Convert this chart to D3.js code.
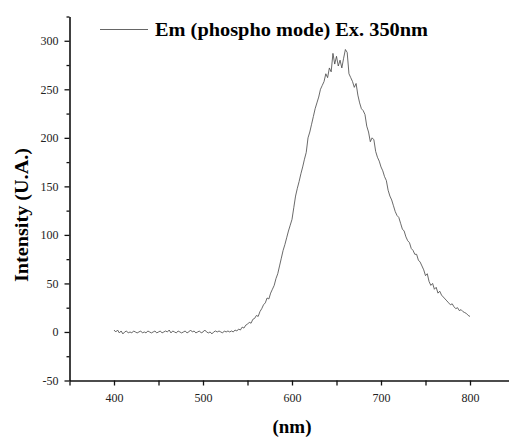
<!DOCTYPE html>
<html><head><meta charset="utf-8">
<script src="https://cdn.jsdelivr.net/npm/d3@7"></script>
<style>html,body{margin:0;padding:0;background:#fff;}svg{display:block;}</style>
</head><body>
<svg id="chart" width="509" height="438"></svg>
<script>
// ---- data ----
const seriesName = "Em (phospho mode) Ex. 350nm";
const xLabel = "(nm)";
const yLabel = "Intensity (U.A.)";
const wavelengthStart = 400, wavelengthStep = 2;
const intensity = [
  2,0,2,-1,1,-2,0,1,-1,0,
  -1,1,0,-1,0,1,-1,0,-1,1,
  0,-1,0,1,-1,0,1,-1,0,1,
  0,2,-1,1,0,-1,1,0,-1,0,
  1,-1,0,2,0,1,-1,0,1,-1,
  0,2,0,-1,0,-2,0,1,0,1,
  0,-1,1,0,1,0,1,0,2,1,
  3,2,5,4,7,8,10,9,13,14,
  17,16,21,24,28,30,35,34,40,44,
  48,55,60,68,76,84,90,97,104,110,
  116,128,140,148,155,163,170,178,185,200,
  206,214,222,230,236,242,250,254,258,266,
  262,272,268,287,276,284,274,280,272,282,
  291,288,266,262,258,252,256,244,236,230,
  228,224,212,206,196,200,198,186,180,176,
  170,166,160,156,146,140,136,130,124,120,
  118,112,106,104,98,94,92,86,84,80,
  80,74,72,68,64,58,60,52,48,50,
  44,46,40,42,38,36,34,32,30,28,
  29,26,24,25,22,23,21,20,19,17,16
];
const wavelengths = intensity.map((_, i) => wavelengthStart + i * wavelengthStep);
const xTicks = [400, 500, 600, 700, 800];
const xMinorTicks = [350, 450, 550, 650, 750, 850];
const yTicks = [-50, 0, 50, 100, 150, 200, 250, 300];
const yMinorTicks = [-25, 25, 75, 125, 175, 225, 275, 325];
const xDomain = [350, 850];
const yDomain = [-50, 325];

// ---- layout ----
const svg = d3.select("#chart");
const mLeft = 69.5, mRight = 514.5, mTop = 16.5, mBottom = 380.5;
const x = d3.scaleLinear().domain(xDomain).range([mLeft, mRight]);
const y = d3.scaleLinear().domain(yDomain).range([mBottom, mTop]);
const ink = "#111";
const font = "'Liberation Serif','Times New Roman',serif";
const fmt = d => String(d);

// x axis
const gx = svg.append("g").attr("transform", `translate(0,${mBottom})`);
gx.call(d3.axisBottom(x).tickValues(xTicks).tickSize(5).tickSizeOuter(0).tickPadding(8).tickFormat(fmt));
const gxm = gx.append("g").call(d3.axisBottom(x).tickValues(xMinorTicks).tickSize(5).tickFormat(""));
gxm.select(".domain").remove();
// y axis
const gy = svg.append("g").attr("transform", `translate(${mLeft},0)`);
gy.call(d3.axisLeft(y).tickValues(yTicks).tickSize(5).tickSizeOuter(0).tickPadding(6).tickFormat(fmt));
const gym = gy.append("g").call(d3.axisLeft(y).tickValues(yMinorTicks).tickSize(3).tickFormat(""));
gym.select(".domain").remove();

gx.attr("font-family", font).attr("font-size", 12);
gy.attr("font-family", font).attr("font-size", 12);
svg.selectAll(".domain").attr("stroke", ink).attr("stroke-width", 1.6);
svg.selectAll(".tick line").attr("stroke", ink).attr("stroke-width", 1.3);
svg.selectAll(".tick text").attr("fill", "#222");

// curve
const line = d3.line().x((d, i) => x(wavelengths[i])).y(d => y(d));
svg.append("path").datum(intensity)
  .attr("fill", "none").attr("stroke", "#444").attr("stroke-width", 0.8)
  .attr("stroke-linejoin", "round")
  .attr("d", line);

// legend
svg.append("line").attr("x1", 100).attr("x2", 148).attr("y1", 29.5).attr("y2", 29.5)
  .attr("stroke", "#666").attr("stroke-width", 1);
svg.append("text").attr("x", 155).attr("y", 36)
  .attr("font-family", font).attr("font-weight", "bold").attr("font-size", 19)
  .attr("textLength", 273).attr("lengthAdjust", "spacingAndGlyphs")
  .attr("fill", "#000").text(seriesName);

// axis titles
svg.append("text").attr("x", x(600)).attr("y", 433)
  .attr("text-anchor", "middle")
  .attr("font-family", font).attr("font-weight", "bold").attr("font-size", 19.5)
  .attr("textLength", 39).attr("lengthAdjust", "spacingAndGlyphs")
  .text(xLabel);
svg.append("text").attr("transform", `translate(28,215) rotate(-90)`)
  .attr("text-anchor", "middle")
  .attr("font-family", font).attr("font-weight", "bold").attr("font-size", 19.5)
  .attr("textLength", 134).attr("lengthAdjust", "spacingAndGlyphs")
  .text(yLabel);
</script>
</body></html>
